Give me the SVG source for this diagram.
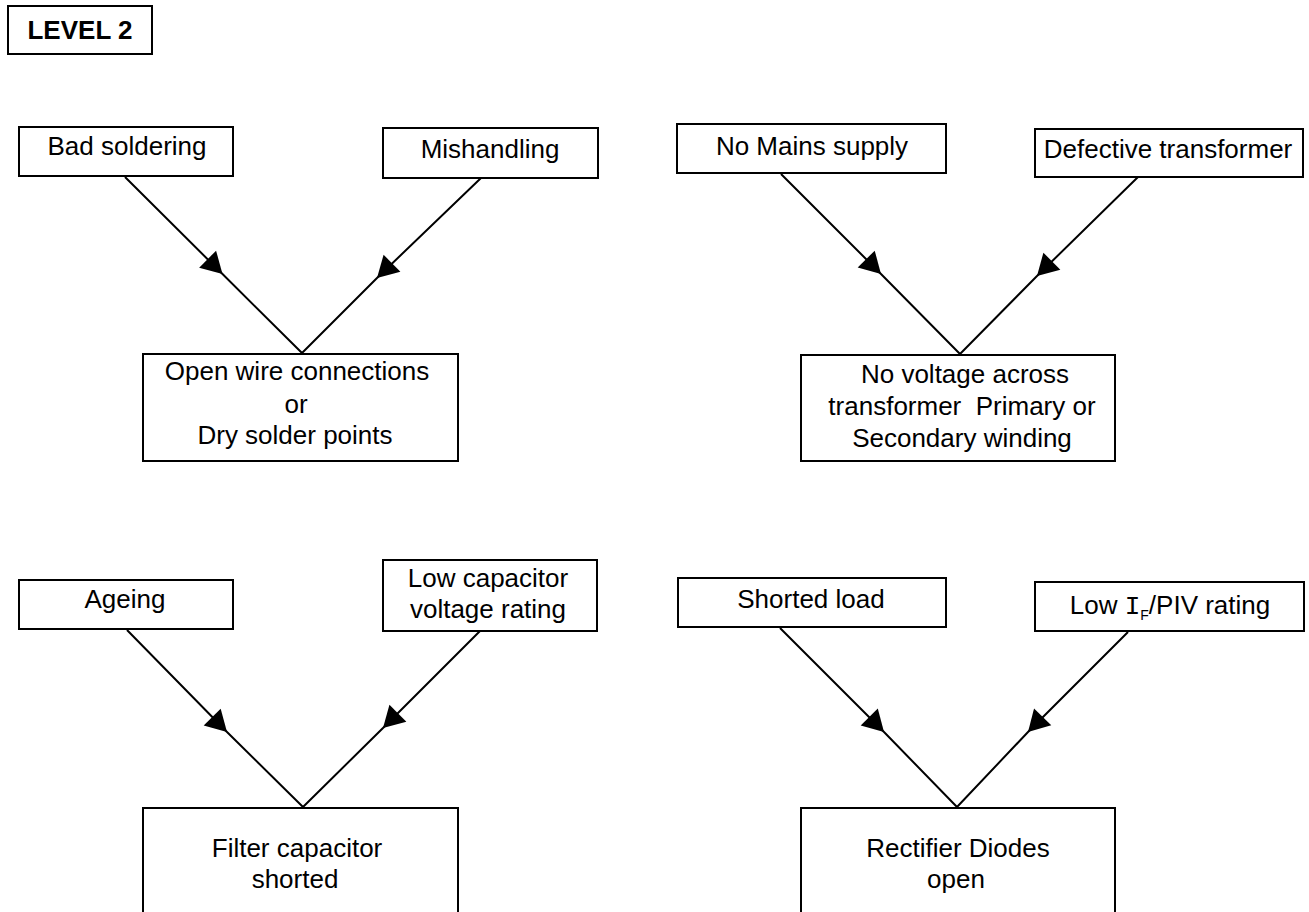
<svg xmlns="http://www.w3.org/2000/svg" width="1309" height="912" viewBox="0 0 1309 912">
<style>
  .box { fill: #fff; stroke: #000; stroke-width: 2; }
  .t { font-family: "Liberation Sans", Arial, sans-serif; font-size: 26px; fill: #000; text-anchor: middle; white-space: pre; }
  .b { font-weight: bold; }
  .c { fill: none; stroke: #000; stroke-width: 2; marker-mid: url(#ah); }
  .mono { font-family: "Liberation Mono", "Courier New", monospace; }
</style>
<defs>
  <marker id="ah" markerUnits="userSpaceOnUse" markerWidth="30" markerHeight="30" viewBox="-24 -15 28 30" refX="0" refY="0" orient="auto">
    <path d="M0,0 L-21,-12 L-21,12 Z" fill="#000"/>
  </marker>
</defs>
<rect width="1309" height="912" fill="#fff"/>

<g id="connectors">
  <polyline class="c" points="125,177 222.5,274 302,353"/>
  <polyline class="c" points="481,178 377,278 302,353"/>
  <polyline class="c" points="781,174 881,274 960,354"/>
  <polyline class="c" points="1138,177 1037,276 960,354"/>
  <polyline class="c" points="127,630 227,732 303,807"/>
  <polyline class="c" points="480,631 383,728 303,807"/>
  <polyline class="c" points="780,628 884,732 957,807"/>
  <polyline class="c" points="1128,632 1028,732 957,807"/>
</g>

<g id="level">
  <rect class="box" x="8" y="6" width="144" height="48"/>
  <text class="t b" x="80" y="39">LEVEL 2</text>
</g>

<g id="bad-soldering">
  <rect class="box" x="19" y="127" width="214" height="49"/>
  <text class="t" x="127" y="155">Bad soldering</text>
</g>
<g id="mishandling">
  <rect class="box" x="383" y="128" width="215" height="50"/>
  <text class="t" x="490" y="158">Mishandling</text>
</g>
<g id="open-wire">
  <rect class="box" x="143" y="354" width="315" height="107"/>
  <text class="t" x="297" y="380">Open wire connections</text>
  <text class="t" x="296" y="413">or</text>
  <text class="t" x="295" y="444">Dry solder points</text>
</g>

<g id="no-mains">
  <rect class="box" x="677" y="124" width="269" height="49"/>
  <text class="t" x="812" y="155">No Mains supply</text>
</g>
<g id="defective-transformer">
  <rect class="box" x="1035" y="129" width="268" height="48"/>
  <text class="t" x="1168" y="158">Defective transformer</text>
</g>
<g id="no-voltage">
  <rect class="box" x="801" y="355" width="314" height="106"/>
  <text class="t" x="965" y="383">No voltage across</text>
  <text class="t" x="962" y="415">transformer  Primary or</text>
  <text class="t" x="962" y="447">Secondary winding</text>
</g>

<g id="ageing">
  <rect class="box" x="19" y="580" width="214" height="49"/>
  <text class="t" x="125" y="608">Ageing</text>
</g>
<g id="low-capacitor">
  <rect class="box" x="383" y="560" width="214" height="71"/>
  <text class="t" x="488" y="587">Low capacitor</text>
  <text class="t" x="488" y="618">voltage rating</text>
</g>
<g id="filter-capacitor">
  <rect class="box" x="143" y="808" width="315" height="120"/>
  <text class="t" x="297" y="857">Filter capacitor</text>
  <text class="t" x="295" y="888">shorted</text>
</g>

<g id="shorted-load">
  <rect class="box" x="678" y="578" width="268" height="49"/>
  <text class="t" x="811" y="608">Shorted load</text>
</g>
<g id="low-if">
  <rect class="box" x="1035" y="582" width="269" height="49"/>
  <text class="t" x="1170" y="614">Low <tspan class="mono">I</tspan><tspan font-size="14" dy="6">F</tspan><tspan dy="-6">/PIV rating</tspan></text>
</g>
<g id="rectifier-diodes">
  <rect class="box" x="801" y="808" width="314" height="120"/>
  <text class="t" x="958" y="857">Rectifier Diodes</text>
  <text class="t" x="956" y="888">open</text>
</g>
</svg>
